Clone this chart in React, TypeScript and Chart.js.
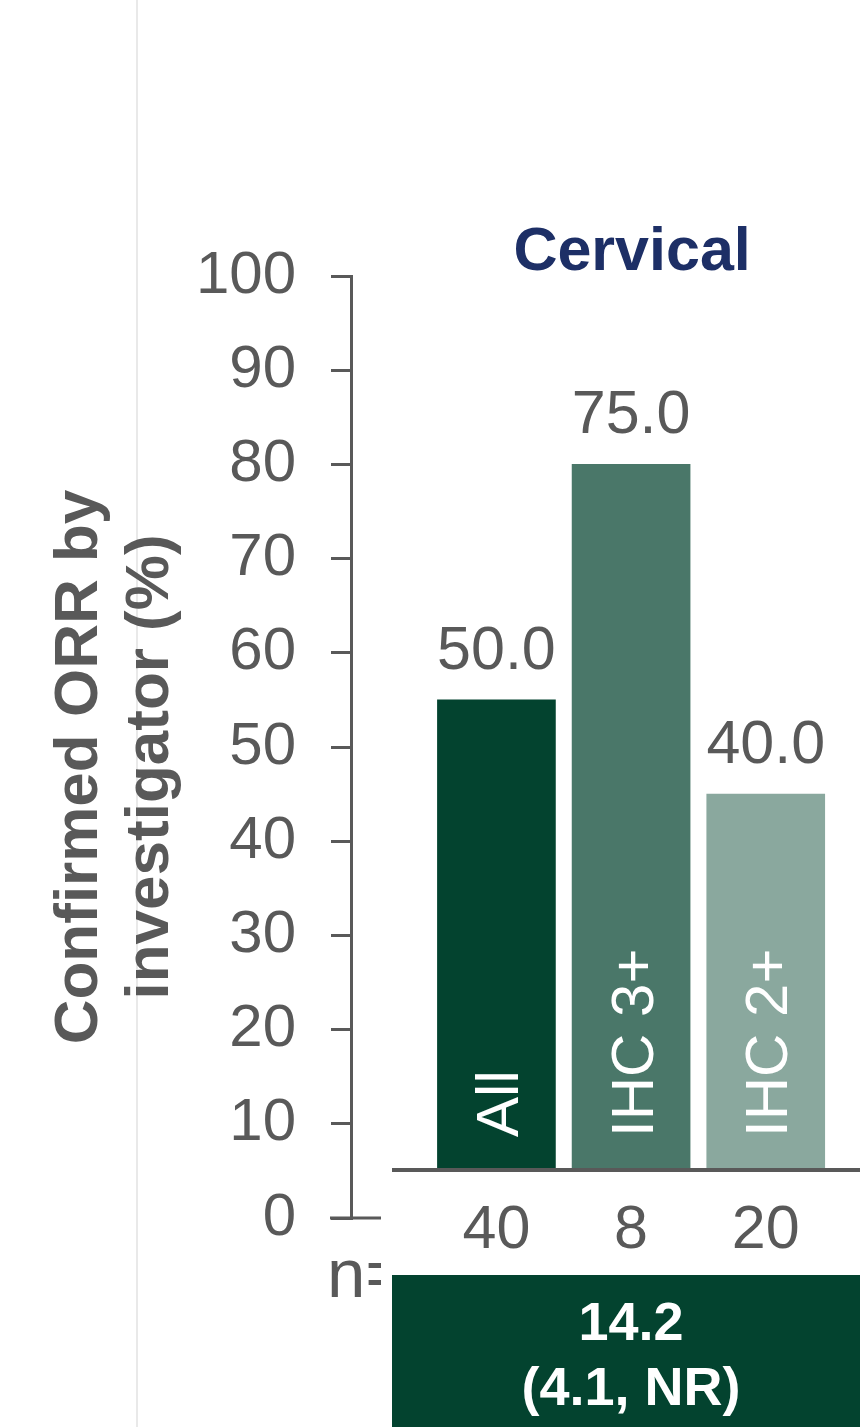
import { useEffect, useRef } from "react";
import { Chart, registerables } from "chart.js";

Chart.register(...registerables);

// ---------- data ----------
const chartTitle = "Cervical";
const yAxisTitleLines = ["Confirmed ORR by", "investigator (%)"];
const categories = ["All", "IHC 3+", "IHC 2+"];
const orrValues = [50.0, 75.0, 40.0];
const nValues = [40, 8, 20];
const nPrefix = "n=";
const barBase = 5;
const yMin = 0;
const yMax = 100;
const yStep = 10;
const dorLines = ["14.2", "(4.1, NR)"];

// ---------- styles ----------
const FONT = '"Liberation Sans", Arial, sans-serif';
const GRAY = "#595959";
const NAVY = "#1d2f66";
const DARK_GREEN = "#03432f";
const barColors = [DARK_GREEN, "#4a7769", "#8aa89e"];

const overlayPlugin = {
  id: "overlay",
  beforeDraw(chart: any) {
    const ctx = chart.ctx;
    ctx.save();
    ctx.fillStyle = "#ffffff";
    ctx.fillRect(0, 0, chart.width, chart.height);
    ctx.strokeStyle = "#e9e9e9";
    ctx.lineWidth = 2;
    ctx.beginPath();
    ctx.moveTo(137, 0);
    ctx.lineTo(137, chart.height);
    ctx.stroke();
    ctx.restore();
  },
  afterDraw(chart: any) {
    const ctx = chart.ctx;
    const x = chart.scales.x;
    const y = chart.scales.y;
    const bars = chart.getDatasetMeta(0).data;
    const y0 = y.getPixelForValue(0);
    const yBase = y.getPixelForValue(barBase);
    ctx.save();

    // zero line extension
    ctx.strokeStyle = GRAY;
    ctx.lineWidth = 3;
    ctx.beginPath();
    ctx.moveTo(330, y0);
    ctx.lineTo(381, y0);
    ctx.stroke();

    // bar baseline
    ctx.lineWidth = 4;
    ctx.beginPath();
    ctx.moveTo(392, yBase - 1);
    ctx.lineTo(chart.width, yBase - 1);
    ctx.stroke();

    // value labels above bars
    ctx.fillStyle = GRAY;
    ctx.font = `61px ${FONT}`;
    ctx.textAlign = "center";
    ctx.textBaseline = "alphabetic";
    bars.forEach((bar: any, i: number) => {
      ctx.fillText(orrValues[i].toFixed(1), bar.x, bar.y - 31);
    });

    // n values
    bars.forEach((bar: any, i: number) => {
      ctx.fillText(String(nValues[i]), bar.x, y0 + 30);
    });

    // category labels inside bars (rotated)
    ctx.fillStyle = "#ffffff";
    ctx.font = `60px ${FONT}`;
    ctx.textAlign = "left";
    const capH = 0.716 * 60;
    bars.forEach((bar: any, i: number) => {
      ctx.save();
      ctx.translate(bar.x + capH / 2, yBase - 34);
      ctx.rotate(-Math.PI / 2);
      ctx.fillText(categories[i], 0, 0);
      ctx.restore();
    });

    // "n=" clipped
    ctx.save();
    ctx.beginPath();
    ctx.rect(0, 1240, 381, 80);
    ctx.clip();
    ctx.fillStyle = GRAY;
    ctx.font = `69px ${FONT}`;
    ctx.textAlign = "left";
    ctx.fillText(nPrefix, 327, 1297);
    ctx.restore();

    // DoR box
    ctx.fillStyle = DARK_GREEN;
    ctx.fillRect(392, 1275, chart.width - 392, chart.height - 1275);
    ctx.fillStyle = "#ffffff";
    ctx.font = `bold 54px ${FONT}`;
    ctx.textAlign = "center";
    const boxCx = x.getPixelForValue(1);
    ctx.fillText(dorLines[0], boxCx, 1340);
    ctx.fillText(dorLines[1], boxCx, 1405);

    // title
    ctx.fillStyle = NAVY;
    ctx.font = `bold 61px ${FONT}`;
    ctx.fillText(chartTitle, x.getPixelForValue(1) + 1, 270);

    // y axis title
    ctx.fillStyle = GRAY;
    ctx.font = `bold 62px ${FONT}`;
    const titleBaselines = [97, 168];
    yAxisTitleLines.forEach((line, i) => {
      ctx.save();
      ctx.translate(titleBaselines[i], 767);
      ctx.rotate(-Math.PI / 2);
      ctx.textAlign = "center";
      ctx.fillText(line, 0, 0);
      ctx.restore();
    });

    ctx.restore();
  },
};

export default function App() {
  const canvasRef = useRef<HTMLCanvasElement | null>(null);

  useEffect(() => {
    if (!canvasRef.current) return;
    const chart = new Chart(canvasRef.current, {
      type: "bar",
      data: {
        datasets: [
          {
            data: categories.map((_, i) => ({ x: i, y: [barBase, barBase + orrValues[i]] })) as any,
            backgroundColor: barColors,
            borderWidth: 0,
            barThickness: 118,
          },
        ],
      },
      options: {
        responsive: false,
        animation: false,
        layout: { padding: { left: 0, right: 0, top: 276, bottom: 209 } },
        plugins: {
          legend: { display: false },
          tooltip: { enabled: false },
          title: { display: false },
        },
        scales: {
          x: {
            type: "linear",
            display: false,
            offset: false,
            bounds: "data",
            min: -1.08,
            max: 2.7,
            ticks: { display: false },
            grid: { offset: false },
          },
          y: {
            type: "linear",
            min: yMin,
            max: yMax,
            afterFit: (scale: any) => {
              scale.width = 351;
            },
            ticks: {
              stepSize: yStep,
              color: GRAY,
              padding: 35,
              font: { family: "Liberation Sans", size: 60 },
            },
            grid: {
              display: true,
              drawOnChartArea: false,
              drawTicks: true,
              tickLength: 20,
              color: GRAY,
              lineWidth: 3,
            },
            border: { display: true, color: GRAY, width: 3 },
          },
        },
      },
      plugins: [overlayPlugin],
    });
    return () => chart.destroy();
  }, []);

  return (
    <div style={{ position: "absolute", left: 0, top: 0, width: 860, height: 1427, overflow: "hidden" }}>
      <canvas ref={canvasRef} width={860} height={1427} style={{ display: "block" }} />
    </div>
  );
}
